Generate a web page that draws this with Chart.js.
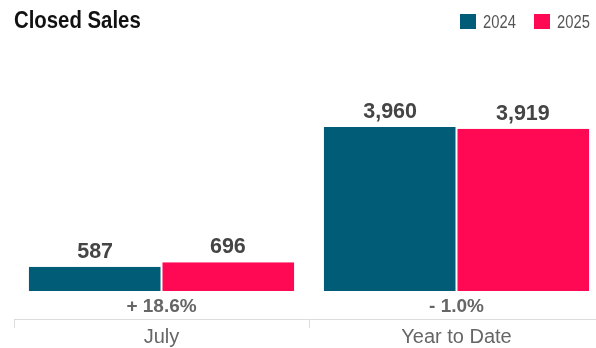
<!DOCTYPE html>
<html>
<head>
<meta charset="utf-8">
<script src="https://cdn.jsdelivr.net/npm/chart.js@4.4.1/dist/chart.umd.min.js"></script>
<style>
  html, body { margin: 0; padding: 0; background: #fff; }
  #wrap { position: relative; width: 596px; height: 348px; overflow: hidden; }
  #title {
    position: absolute; left: 14px; top: 9px; margin: 0;
    font: bold 23px/23px "Liberation Sans", Arial, sans-serif;
    color: #111; white-space: nowrap; transform: scaleX(0.885); transform-origin: 0 0;
  }
  #legend { position: absolute; left: 460px; top: 0; height: 40px; width: 136px; }
  #legend .swatch { position: absolute; top: 14px; width: 16px; height: 15px; }
  #legend .text {
    position: absolute; top: 13px; white-space: nowrap;
    font: 18px/18px "Liberation Sans", Arial, sans-serif; color: #555;
    transform: scaleX(0.82); transform-origin: 0 0;
  }
  #plot { position: absolute; left: 0; top: 0; width: 606px; height: 348px; }
</style>
</head>
<body>
<div id="wrap">
  <div id="plot"><canvas id="chart"></canvas></div>
  <div id="title">Closed Sales</div>
  <div id="legend"></div>
</div>
<script>
// Closed sales, current month vs. year to date
const categories = ['July', 'Year to Date'];
const seriesNames = ['2024', '2025'];
const sales2024 = [587, 3960];
const sales2025 = [696, 3919];
const seriesColors = ['#015c78', '#ff0955'];

const valueFont = '"Liberation Sans", Arial, sans-serif';

// legend built from the series: swatch, then label, 74px per entry
const legendEl = document.getElementById('legend');
seriesNames.forEach((name, i) => {
  const sw = document.createElement('span');
  sw.className = 'swatch';
  sw.style.left = (i * 74) + 'px';
  sw.style.background = seriesColors[i];
  const tx = document.createElement('span');
  tx.className = 'text';
  tx.style.left = (i * 74 + 23) + 'px';
  tx.textContent = name;
  legendEl.appendChild(sw);
  legendEl.appendChild(tx);
});

// value labels above each bar and the year-over-year change under each group
const barLabels = {
  id: 'barLabels',
  afterDatasetsDraw(chart) {
    const ctx = chart.ctx;
    ctx.save();
    ctx.textAlign = 'center';
    ctx.textBaseline = 'alphabetic';
    ctx.font = 'bold 21.5px ' + valueFont;
    ctx.fillStyle = '#454545';
    chart.data.datasets.forEach((ds, di) => {
      const meta = chart.getDatasetMeta(di);
      meta.data.forEach((bar, i) => {
        ctx.fillText(ds.data[i].toLocaleString('en-US'), bar.x, bar.y - 9);
      });
    });
    const m0 = chart.getDatasetMeta(0), m1 = chart.getDatasetMeta(1);
    const zero = chart.scales.y.getPixelForValue(0);
    ctx.font = 'bold 19px ' + valueFont;
    ctx.fillStyle = '#666';
    categories.forEach((c, i) => {
      const a = sales2024[i], b = sales2025[i];
      const pct = (b - a) / a * 100;
      const txt = (pct >= 0 ? '+ ' : '- ') + Math.abs(pct).toFixed(1) + '%';
      const x = (m0.data[i].x + m1.data[i].x) / 2;
      ctx.fillText(txt, x, zero + 21);
    });
    ctx.restore();
  }
};

new Chart(document.getElementById('chart'), {
  type: 'bar',
  data: {
    labels: categories,
    datasets: [
      { label: seriesNames[0], data: sales2024, backgroundColor: seriesColors[0],
        borderColor: '#fff', borderWidth: { right: 1, left: 0, top: 0, bottom: 0 } },
      { label: seriesNames[1], data: sales2025, backgroundColor: seriesColors[1],
        borderColor: '#fff', borderWidth: { left: 1, right: 0, top: 0, bottom: 0 } }
    ]
  },
  options: {
    responsive: true,
    maintainAspectRatio: false,
    animation: false,
    devicePixelRatio: 1,
    layout: { padding: { top: 40, left: 14, right: 2, bottom: 0 } },
    datasets: { bar: { categoryPercentage: 0.9, barPercentage: 1 } },
    plugins: { legend: { display: false }, title: { display: false }, tooltip: { enabled: false } },
    scales: {
      x: {
        offset: true,
        grid: { display: true, offset: true, drawOnChartArea: false, drawTicks: true,
                tickLength: 9, color: '#dcdcdc' },
        border: { display: true, color: '#dcdcdc' },
        ticks: { color: '#666', padding: -3, font: { size: 20, family: valueFont } },
        afterFit(scale) { scale.height = 29; }
      },
      y: { display: false, min: -676, max: 6061 }
    }
  },
  plugins: [barLabels]
});
</script>
</body>
</html>
